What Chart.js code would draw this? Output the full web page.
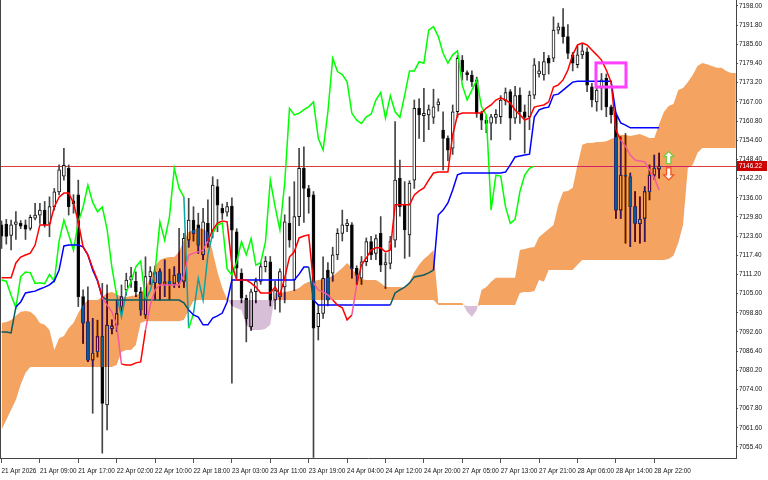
<!DOCTYPE html>
<html>
<head>
<meta charset="utf-8">
<script src="https://cdn.jsdelivr.net/npm/chart.js"></script>
<style>
  html, body { margin: 0; padding: 0; background: #fff; }
  canvas { display: block; }
</style>
</head>
<body>
<canvas id="chart" width="768" height="480"></canvas>
<script>
// H1 bars, 21 Apr 01:00 -> 28 Apr 23:00 (138 candles)
var opens = [
  7127.2, 7127.5, 7123.8, 7127.4, 7127.7, 7127.2, 7126.1, 7129.4, 7130.4, 7132.0,
  7127.7, 7133.1, 7137.9, 7143.0, 7145.5, 7135.0, 7136.9, 7104.0, 7095.9, 7083.5,
  7086.2, 7091.1, 7069.0, 7093.6, 7094.8, 7100.8, 7106.2, 7109.4, 7109.0, 7105.6,
  7098.1, 7110.5, 7108.5, 7112.1, 7108.0, 7109.0, 7108.3, 7111.5, 7108.9, 7122.3,
  7128.8, 7127.2, 7117.5, 7127.7, 7125.0, 7139.6, 7132.6, 7131.3, 7133.3, 7125.0,
  7111.6, 7103.5, 7094.3, 7105.6, 7108.9, 7113.7, 7115.3, 7102.9, 7104.0, 7107.2,
  7127.7, 7109.4, 7129.9, 7145.5, 7139.0, 7136.9, 7094.3, 7098.6, 7112.6, 7111.6,
  7117.5, 7124.5, 7127.0, 7127.2, 7113.2, 7110.0, 7115.3, 7121.8, 7118.0, 7124.5,
  7114.3, 7114.8, 7122.3, 7142.3, 7133.6, 7124.0, 7141.7, 7164.9, 7162.5, 7162.8,
  7162.0, 7166.0, 7157.9, 7155.2, 7152.0, 7163.8, 7180.5, 7176.5, 7175.7, 7174.1,
  7163.3, 7161.0, 7160.1, 7162.0, 7162.2, 7167.4, 7170.3, 7161.7, 7169.2, 7163.8,
  7162.2, 7169.2, 7176.0, 7175.7, 7181.1, 7181.1, 7190.2, 7191.3, 7188.1, 7182.2,
  7179.0, 7182.2, 7183.2, 7171.9, 7167.0, 7171.4, 7174.6, 7165.4, 7162.8, 7132.0,
  7143.3, 7142.8, 7133.1, 7127.5, 7129.3, 7138.0, 7143.3, 7145.2
];
var highs = [
  7128.5, 7129.0, 7128.8, 7131.5, 7128.6, 7128.8, 7130.4, 7134.2, 7134.2, 7134.8,
  7136.3, 7139.0, 7146.6, 7152.0, 7146.6, 7137.0, 7141.7, 7106.2, 7107.2, 7097.0,
  7096.4, 7108.3, 7107.8, 7096.5, 7103.0, 7107.8, 7111.6, 7113.5, 7112.0, 7107.0,
  7116.9, 7113.7, 7114.0, 7113.0, 7115.9, 7112.9, 7113.7, 7126.1, 7124.5, 7135.8,
  7133.1, 7131.0, 7132.6, 7135.3, 7142.8, 7141.9, 7134.0, 7134.5, 7136.0, 7126.0,
  7113.0, 7104.5, 7106.5, 7110.0, 7115.0, 7117.0, 7117.0, 7109.0, 7113.0, 7130.5,
  7136.3, 7141.2, 7152.0, 7152.5, 7140.0, 7138.0, 7101.5, 7116.9, 7115.0, 7120.0,
  7126.0, 7132.0, 7129.0, 7128.0, 7114.0, 7117.0, 7123.0, 7123.5, 7124.0, 7129.9,
  7118.0, 7123.5, 7160.6, 7148.2, 7141.2, 7141.5, 7167.6, 7168.0, 7171.4, 7166.0,
  7171.1, 7168.0, 7163.8, 7156.0, 7166.0, 7182.0, 7182.0, 7177.0, 7177.0, 7175.0,
  7164.0, 7162.5, 7163.0, 7164.5, 7169.0, 7171.5, 7171.0, 7172.0, 7171.5, 7166.0,
  7170.5, 7181.0, 7180.0, 7183.0, 7182.0, 7194.5, 7192.5, 7197.2, 7192.0, 7183.0,
  7185.0, 7185.9, 7184.5, 7173.0, 7172.0, 7176.2, 7176.0, 7166.0, 7163.5, 7155.7,
  7156.8, 7144.0, 7138.0, 7136.3, 7139.6, 7146.6, 7149.8, 7150.4
];
var lows = [
  7119.6, 7121.0, 7119.1, 7122.5, 7126.0, 7122.5, 7125.5, 7128.8, 7127.7, 7126.5,
  7123.4, 7132.0, 7136.9, 7141.7, 7130.4, 7131.0, 7100.8, 7088.9, 7083.0, 7066.3,
  7084.5, 7053.4, 7060.9, 7092.0, 7092.7, 7099.0, 7104.5, 7107.0, 7104.0, 7098.0,
  7097.0, 7108.0, 7103.0, 7102.9, 7104.0, 7103.0, 7107.0, 7107.0, 7107.0, 7120.0,
  7122.0, 7118.0, 7116.0, 7120.0, 7123.0, 7125.0, 7129.0, 7130.0, 7076.0, 7110.0,
  7102.0, 7089.4, 7093.0, 7102.0, 7108.0, 7112.0, 7101.0, 7100.0, 7099.0, 7102.0,
  7120.0, 7106.0, 7127.0, 7128.0, 7131.0, 7052.0, 7090.0, 7097.0, 7101.0, 7109.0,
  7116.0, 7122.0, 7125.0, 7110.0, 7108.0, 7108.0, 7114.0, 7116.0, 7116.0, 7112.1,
  7106.7, 7113.0, 7120.0, 7130.0, 7116.4, 7117.0, 7139.0, 7155.2, 7154.1, 7158.0,
  7160.0, 7164.0, 7145.0, 7148.0, 7150.0, 7162.0, 7174.0, 7174.0, 7172.0, 7162.0,
  7158.0, 7157.0, 7154.7, 7160.0, 7160.0, 7166.0, 7154.7, 7160.0, 7160.0, 7150.4,
  7158.0, 7168.0, 7175.0, 7174.0, 7176.0, 7180.0, 7189.0, 7186.0, 7181.0, 7177.0,
  7178.0, 7181.0, 7170.3, 7165.4, 7164.0, 7164.4, 7162.2, 7160.1, 7129.3, 7129.3,
  7121.3, 7120.2, 7121.8, 7121.3, 7121.8, 7135.3, 7142.0, 7142.3
];
var closes = [
  7123.6, 7123.5, 7127.2, 7128.2, 7126.8, 7125.8, 7129.7, 7130.4, 7132.0, 7127.2,
  7133.1, 7137.9, 7145.0, 7146.5, 7133.1, 7134.0, 7104.0, 7095.4, 7083.5, 7085.7,
  7091.1, 7069.5, 7094.8, 7094.6, 7098.5, 7104.0, 7109.4, 7110.5, 7105.6, 7099.7,
  7110.5, 7112.1, 7111.8, 7108.3, 7108.8, 7108.0, 7111.0, 7108.8, 7122.9, 7128.8,
  7124.5, 7120.7, 7128.2, 7121.8, 7140.1, 7133.6, 7131.0, 7133.1, 7125.5, 7113.2,
  7103.5, 7097.0, 7105.6, 7108.9, 7113.7, 7115.5, 7102.9, 7106.0, 7112.1, 7128.2,
  7122.3, 7129.9, 7145.5, 7139.0, 7136.3, 7093.8, 7098.6, 7109.9, 7102.9, 7117.5,
  7124.5, 7127.2, 7127.8, 7113.0, 7111.0, 7115.3, 7121.8, 7117.5, 7122.8, 7114.2,
  7115.0, 7121.8, 7141.7, 7133.1, 7125.6, 7140.7, 7164.9, 7162.8, 7163.3, 7164.5,
  7165.4, 7167.0, 7155.2, 7151.4, 7163.8, 7181.1, 7176.8, 7175.8, 7173.5, 7163.3,
  7161.1, 7160.0, 7162.2, 7163.0, 7167.6, 7170.0, 7161.7, 7169.0, 7163.8, 7162.0,
  7169.2, 7179.0, 7177.0, 7180.0, 7179.5, 7190.2, 7191.3, 7188.1, 7182.7, 7179.5,
  7182.2, 7183.5, 7172.4, 7167.6, 7170.8, 7174.1, 7165.4, 7162.8, 7132.0, 7143.3,
  7143.0, 7133.1, 7127.7, 7129.0, 7138.0, 7143.3, 7145.5, 7146.22
];

// Ichimoku lines
var tenkan = [
  7110.1, 7110.1, 7110.1, 7114.9, 7116.8, 7117.5, 7118.1, 7120.7, 7127.2, 7127.2,
  7127.2, 7133.0, 7136.2, 7137.5, 7137.5, 7134.3, 7128.2, 7120.1, 7117.5, 7113.3,
  7109.4, 7103.6, 7101.3, 7099.1, 7094.9, 7082.2, 7081.9, 7081.9, 7082.6, 7082.9,
  7093.2, 7101.3, 7106.2, 7107.8, 7107.8, 7107.8, 7107.8, 7107.8, 7111.0, 7117.5,
  7118.1, 7118.5, 7119.1, 7122.0, 7125.6, 7127.8, 7128.5, 7128.2, 7114.3, 7109.4,
  7109.4, 7109.4, 7108.4, 7107.1, 7105.2, 7105.2, 7105.2, 7107.1, 7104.6, 7110.1,
  7116.8, 7118.5, 7123.0, 7123.6, 7124.0, 7108.4, 7106.2, 7105.5, 7104.6, 7102.9,
  7101.3, 7100.4, 7096.5, 7098.1, 7107.8, 7114.3, 7116.5, 7119.1, 7119.8, 7119.8,
  7118.5, 7119.1, 7133.7, 7133.7, 7133.7, 7133.7, 7136.9, 7138.2, 7139.2, 7141.7,
  7144.0, 7144.3, 7144.3, 7144.3, 7156.3, 7162.8, 7163.4, 7163.4, 7163.4, 7163.4,
  7163.4, 7165.0, 7166.0, 7167.6, 7168.3, 7167.6, 7166.6, 7164.4, 7162.8, 7161.1,
  7161.8, 7165.3, 7165.7, 7166.0, 7167.0, 7171.8, 7172.5, 7174.1, 7177.3, 7182.2,
  7185.4, 7186.0, 7185.4, 7183.8, 7182.2, 7180.5, 7177.3, 7173.4, 7157.9, 7154.7,
  7152.7, 7149.8, 7148.2, 7147.9, 7147.6, 7145.0, 7142.4, 7138.5
];
var kijun = [
  7092.6, 7092.6, 7092.3, 7100.7, 7102.3, 7105.2, 7105.5, 7105.8, 7106.5, 7107.1,
  7107.8, 7109.1, 7112.6, 7120.4, 7120.7, 7120.7, 7120.7, 7120.1, 7117.5, 7112.6,
  7109.1, 7103.9, 7102.9, 7102.9, 7102.9, 7102.9, 7102.9, 7102.9, 7102.9, 7102.9,
  7102.9, 7102.9, 7102.9, 7102.9, 7102.9, 7102.9, 7102.9, 7102.9, 7102.0, 7099.7,
  7098.1, 7097.4, 7094.9, 7094.9, 7097.1, 7097.8, 7098.7, 7102.3, 7109.4, 7109.4,
  7109.4, 7109.4, 7109.4, 7109.4, 7109.4, 7109.4, 7109.4, 7109.4, 7109.4, 7109.4,
  7109.4, 7109.4, 7111.3, 7113.6, 7113.6, 7102.9, 7101.3, 7101.3, 7101.3, 7101.3,
  7101.3, 7101.3, 7101.3, 7101.3, 7101.3, 7101.3, 7101.3, 7101.3, 7101.3, 7101.3,
  7101.3, 7101.3, 7105.2, 7106.2, 7107.1, 7108.4, 7110.4, 7110.7, 7111.0, 7111.7,
  7112.6, 7130.4, 7132.0, 7134.3, 7138.5, 7143.4, 7144.0, 7144.0, 7144.0, 7144.0,
  7144.0, 7144.0, 7144.0, 7144.0, 7144.0, 7144.3, 7146.6, 7149.2, 7149.5, 7149.8,
  7150.1, 7162.1, 7164.4, 7165.0, 7165.3, 7169.2, 7169.5, 7170.8, 7172.1, 7173.4,
  7173.7, 7173.7, 7173.7, 7173.7, 7173.7, 7173.7, 7173.7, 7173.7, 7163.4, 7160.2,
  7159.5, 7158.6, 7158.6, 7158.6, 7158.6, 7158.6, 7158.6, 7158.6
];
var chikou = [
  7109.4, 7109.0, 7104.5, 7100.5, 7110.5, 7112.0, 7111.8, 7108.3, 7108.5, 7108.2,
  7111.2, 7109.0, 7122.0, 7128.8, 7124.0, 7119.0, 7128.2, 7133.0, 7140.1, 7134.5,
  7131.5, 7133.0, 7125.8, 7113.5, 7104.5, 7097.5, 7105.6, 7108.9, 7113.7, 7115.5,
  7102.9, 7106.0, 7112.1, 7128.2, 7122.3, 7129.9, 7145.5, 7139.0, 7136.3, 7093.8,
  7098.6, 7109.9, 7102.9, 7117.5, 7124.5, 7127.2, 7127.8, 7113.0, 7111.0, 7115.3,
  7121.8, 7117.5, 7122.8, 7114.2, 7115.0, 7121.8, 7141.7, 7133.1, 7125.6, 7140.7,
  7164.9, 7162.8, 7163.3, 7164.5, 7165.4, 7167.0, 7155.2, 7151.4, 7163.8, 7181.1,
  7176.8, 7175.8, 7173.5, 7163.3, 7161.1, 7160.0, 7162.2, 7163.0, 7167.6, 7170.0,
  7161.7, 7169.0, 7163.8, 7162.0, 7169.2, 7177.0, 7177.0, 7180.0, 7179.5, 7190.2,
  7191.3, 7188.1, 7182.7, 7179.5, 7182.2, 7183.5, 7172.4, 7167.6, 7170.8, 7174.1,
  7165.4, 7162.8, 7132.0, 7143.3, 7143.0, 7133.1, 7127.7, 7129.0, 7138.0, 7143.3,
  7145.5, 7146.2
];
// Senkou spans run 16 bars past the last candle, up to the price scale
var spanA = [
  7095.5, 7095.8, 7096.5, 7097.8, 7099.1, 7099.4, 7099.1, 7097.8, 7095.5, 7094.9,
  7093.2, 7086.8, 7090.6, 7091.3, 7093.9, 7095.5, 7098.7, 7101.3, 7102.9, 7102.9,
  7102.9, 7103.9, 7105.2, 7105.5, 7104.9, 7103.9, 7103.9, 7104.2, 7104.5, 7105.2,
  7106.8, 7110.1, 7113.9, 7115.9, 7116.5, 7116.8, 7116.8, 7118.5, 7122.3, 7124.9,
  7125.6, 7126.2, 7125.9, 7124.9, 7118.5, 7112.0, 7106.8, 7103.2, 7101.0, 7100.3,
  7099.7, 7094.9, 7093.2, 7093.2, 7093.2, 7093.6, 7094.9, 7105.2, 7105.2, 7105.5,
  7105.8, 7106.2, 7106.8, 7108.1, 7108.8, 7109.1, 7109.4, 7109.7, 7110.1, 7110.7,
  7112.0, 7113.3, 7114.9, 7113.3, 7111.0, 7109.7, 7109.4, 7109.4, 7109.4, 7108.4,
  7107.1, 7107.1, 7107.1, 7107.1, 7106.8, 7108.8, 7112.0, 7114.3, 7116.2, 7117.5,
  7119.1, 7102.0, 7102.0, 7102.0, 7102.0, 7102.0, 7102.0, 7099.1, 7097.4, 7099.7,
  7106.2, 7107.1, 7108.8, 7110.1, 7110.1, 7110.1, 7110.1, 7110.1, 7119.1, 7119.4,
  7119.8, 7120.1, 7123.3, 7124.6, 7125.9, 7127.2, 7133.7, 7137.9, 7138.2, 7139.2,
  7146.6, 7153.1, 7153.7, 7153.7, 7154.0, 7154.0, 7154.3, 7155.0, 7155.6, 7156.3,
  7156.3, 7156.0, 7156.3, 7156.6, 7156.0, 7155.3, 7155.3, 7159.8, 7163.7, 7165.7,
  7166.3, 7170.8, 7171.5, 7173.4, 7175.7, 7178.6, 7179.6, 7179.2, 7178.6, 7178.0,
  7178.0, 7177.0, 7176.3, 7176.3
];
var spanB = [
  7060.9, 7064.1, 7067.4, 7070.6, 7075.5, 7079.3, 7081.3, 7081.3, 7081.3, 7081.3,
  7081.3, 7081.3, 7081.3, 7081.3, 7081.3, 7081.3, 7081.3, 7081.3, 7081.3, 7081.3,
  7081.3, 7081.3, 7081.3, 7081.3, 7081.9, 7086.1, 7086.8, 7086.8, 7088.4, 7095.5,
  7096.1, 7096.1, 7096.1, 7096.1, 7096.1, 7096.1, 7096.1, 7096.1, 7096.5, 7099.7,
  7102.6, 7102.9, 7102.9, 7102.9, 7102.9, 7102.9, 7102.9, 7102.9, 7102.9, 7102.9,
  7102.9, 7102.9, 7102.9, 7102.9, 7102.9, 7102.9, 7102.9, 7102.9, 7102.9, 7102.9,
  7102.9, 7102.9, 7102.9, 7102.9, 7102.9, 7102.9, 7102.9, 7102.9, 7102.9, 7102.9,
  7102.9, 7102.9, 7102.9, 7102.9, 7102.9, 7102.9, 7102.9, 7102.9, 7102.9, 7102.9,
  7102.9, 7102.9, 7102.9, 7102.9, 7102.9, 7102.9, 7102.9, 7102.9, 7102.9, 7102.9,
  7102.9, 7101.3, 7101.3, 7101.3, 7101.3, 7101.3, 7101.3, 7101.0, 7101.0, 7101.0,
  7101.3, 7101.3, 7101.3, 7101.3, 7101.3, 7101.3, 7101.3, 7101.3, 7105.2, 7105.5,
  7105.5, 7105.8, 7109.4, 7108.8, 7112.6, 7112.6, 7112.6, 7112.6, 7112.6, 7112.6,
  7114.3, 7115.9, 7115.9, 7115.9, 7115.9, 7115.9, 7115.9, 7115.9, 7115.9, 7115.9,
  7115.9, 7115.9, 7115.9, 7115.9, 7115.9, 7115.9, 7115.9, 7115.9, 7115.9, 7116.2,
  7117.2, 7121.4, 7127.2, 7145.6, 7146.6, 7150.5, 7152.1, 7152.1, 7152.1, 7152.1,
  7152.1, 7152.1, 7152.1, 7152.1
];

// one time label every 8 bars
var timeLabels = [
  '21 Apr 2026', '21 Apr 09:00', '21 Apr 17:00', '22 Apr 02:00', '22 Apr 10:00', '22 Apr 18:00',
  '23 Apr 03:00', '23 Apr 11:00', '23 Apr 19:00', '24 Apr 04:00', '24 Apr 12:00', '24 Apr 20:00',
  '27 Apr 05:00', '27 Apr 13:00', '27 Apr 21:00', '28 Apr 06:00', '28 Apr 14:00', '28 Apr 22:00'
];
var labelEvery = 8;
var priceTicks = [
  7198.00, 7191.80, 7185.60, 7179.40, 7173.20, 7167.00, 7160.80, 7154.60, 7148.40, 7142.20,
  7136.00, 7129.80, 7123.60, 7117.40, 7111.20, 7105.00, 7098.80, 7092.60, 7086.40, 7080.20,
  7074.00, 7067.80, 7061.60, 7055.40
];
var lastPrice = 7146.22;
// marked zone and signal arrows
var boxBars = [123.85, 130.1];
var boxPrices = [7179.6, 7171.8];
var signalBar = 139;
var upArrowPrice = 7149.0;
var downArrowPrice = 7143.7;

function pts(arr) {
  return arr.map(function (v, i) { return { x: i, y: v }; });
}

var bodies = opens.map(function (o, i) { return { x: i, y: [o, closes[i]] }; });
var wicks = lows.map(function (l, i) { return { x: i, y: [l, highs[i]] }; });
var bodyColors = opens.map(function (o, i) { return closes[i] >= o ? '#ffffff' : '#000000'; });

// a line segment inside the cloud takes the XOR-ed colour, like on the terminal
function cloudTint(base, inOrange, inPurple) {
  return function (ctx) {
    var i = ctx.p0DataIndex, j = ctx.p1DataIndex;
    if (spanA[j] === undefined) return base;
    var y = (ctx.p0.parsed.y + ctx.p1.parsed.y) / 2;
    var a = (spanA[i] + spanA[j]) / 2, b = (spanB[i] + spanB[j]) / 2;
    if (y < Math.max(a, b) && y > Math.min(a, b)) return a >= b ? inOrange : inPurple;
    return base;
  };
}

function drawArrow(ctx, x, y, up, color) {
  var d = up ? 1 : -1;
  ctx.beginPath();
  ctx.moveTo(x, y - 6 * d);
  ctx.lineTo(x + 5, y - 1 * d);
  ctx.lineTo(x + 2.2, y - 1 * d);
  ctx.lineTo(x + 2.2, y + 6 * d);
  ctx.lineTo(x - 2.2, y + 6 * d);
  ctx.lineTo(x - 2.2, y - 1 * d);
  ctx.lineTo(x - 5, y - 1 * d);
  ctx.closePath();
  ctx.fillStyle = '#ffffff';
  ctx.fill();
  ctx.lineWidth = 1.3;
  ctx.strokeStyle = color;
  ctx.stroke();
}

// cloud is painted in "difference" mode so black candles inside it turn blue
var cloudPlugin = {
  id: 'cloud',
  beforeDraw: function (chart) {
    var ctx = chart.ctx;
    ctx.save();
    ctx.fillStyle = '#ffffff';
    ctx.fillRect(0, 0, chart.width, chart.height);
    ctx.restore();
  },
  beforeDatasetsDraw: function (chart) {
    var ctx = chart.ctx, a = chart.chartArea;
    var py = Math.round(chart.scales.y.getPixelForValue(lastPrice)) + 0.5;
    ctx.save();
    ctx.strokeStyle = '#e03a3a';
    ctx.lineWidth = 1;
    ctx.beginPath();
    ctx.moveTo(a.left, py);
    ctx.lineTo(a.right, py);
    ctx.stroke();
    ctx.restore();
  },
  afterDatasetDraw: function (chart, args) {
    if (args.index === 1) chart.ctx.globalCompositeOperation = 'difference';
  },
  beforeDatasetDraw: function (chart, args) {
    if (args.index === 0) chart.ctx.globalCompositeOperation = 'source-over';
  },
  afterDatasetsDraw: function (chart) {
    var ctx = chart.ctx, xs = chart.scales.x, ys = chart.scales.y;
    ctx.globalCompositeOperation = 'source-over';
    ctx.save();
    var x1 = xs.getPixelForValue(boxBars[0]), x2 = xs.getPixelForValue(boxBars[1]);
    var y1 = ys.getPixelForValue(boxPrices[0]), y2 = ys.getPixelForValue(boxPrices[1]);
    ctx.strokeStyle = '#ff40ff';
    ctx.lineWidth = 3;
    ctx.strokeRect(x1, y1, x2 - x1, y2 - y1);
    var ax = xs.getPixelForValue(signalBar);
    drawArrow(ctx, ax, ys.getPixelForValue(upArrowPrice), true, '#7cc843');
    drawArrow(ctx, ax, ys.getPixelForValue(downArrowPrice), false, '#f4511e');
    ctx.restore();
  },
  afterDraw: function (chart) {
    var ctx = chart.ctx, a = chart.chartArea;
    var py = chart.scales.y.getPixelForValue(lastPrice);
    ctx.save();
    ctx.strokeStyle = '#444';
    ctx.lineWidth = 1;
    ctx.beginPath();
    ctx.moveTo(a.left + 0.5, a.top);
    ctx.lineTo(a.left + 0.5, a.bottom);
    ctx.stroke();
    ctx.fillStyle = '#cc0000';
    ctx.fillRect(a.right + 1, Math.round(py) - 5, 30, 10);
    ctx.fillStyle = '#ffffff';
    ctx.font = '6.4px "Liberation Sans"';
    ctx.textBaseline = 'middle';
    ctx.fillText(lastPrice.toFixed(2), a.right + 3, Math.round(py) + 0.5);
    ctx.restore();
  }
};

var tickFont = { family: 'Liberation Sans', size: 6.4 };

new Chart(document.getElementById('chart'), {
  type: 'bar',
  data: {
    datasets: [
      { type: 'line', label: 'Senkou A', data: pts(spanA), borderColor: 'rgba(0,0,0,0)', borderWidth: 1,
        pointRadius: 0, tension: 0, order: 3,
        fill: { target: '+1', above: 'rgb(11,91,159)', below: 'rgb(39,64,39)' } },
      { type: 'line', label: 'Senkou B', data: pts(spanB), borderColor: 'rgba(0,0,0,0)', borderWidth: 1,
        pointRadius: 0, tension: 0, fill: false, order: 4 },
      { type: 'line', label: 'Tenkan', data: pts(tenkan), borderColor: '#ff0000', borderWidth: 1.5,
        pointRadius: 0, tension: 0, fill: false, order: 0,
        segment: { borderColor: cloudTint('#ff0000', '#f45b9f', '#d84027') } },
      { type: 'line', label: 'Kijun', data: pts(kijun), borderColor: '#0000ff', borderWidth: 1.5,
        pointRadius: 0, tension: 0, fill: false, order: 1,
        segment: { borderColor: cloudTint('#0000ff', '#0b5b60', '#2740d8') } },
      { type: 'line', label: 'Chikou', data: pts(chikou), borderColor: '#00ff00', borderWidth: 1.5,
        pointRadius: 0, tension: 0, fill: false, order: 2,
        segment: { borderColor: cloudTint('#00ff00', '#0ba49f', '#27bf27') } },
      { type: 'bar', label: 'body', data: bodies, backgroundColor: bodyColors, borderColor: '#111',
        borderWidth: 1, borderSkipped: false, barThickness: 3, minBarLength: 1, grouped: false, order: 5 },
      { type: 'bar', label: 'wick', data: wicks, backgroundColor: '#444', borderWidth: 0,
        barThickness: 1, minBarLength: 1, grouped: false, order: 6 }
    ]
  },
  options: {
    responsive: false,
    animation: false,
    devicePixelRatio: 1,
    events: [],
    layout: { padding: 0 },
    plugins: { legend: { display: false }, tooltip: { enabled: false } },
    scales: {
      x: {
        type: 'linear', min: -0.31, max: 153.02, offset: false,
        afterBuildTicks: function (s) {
          s.ticks = timeLabels.map(function (t, k) { return { value: k * labelEvery }; });
        },
        afterFit: function (s) { s.height = 22; s.paddingLeft = 0; s.paddingRight = 0; },
        ticks: {
          autoSkip: false, maxRotation: 0, align: 'start', padding: 4, color: '#111', font: tickFont,
          callback: function (v, i) { return timeLabels[i]; }
        },
        grid: { drawOnChartArea: false, offset: false, tickLength: 5, color: '#555' },
        border: { display: true, color: '#444' }
      },
      y: {
        position: 'right', min: 7051.84, max: 7199.94, beginAtZero: false,
        afterBuildTicks: function (s) {
          s.ticks = priceTicks.map(function (v) { return { value: v }; });
        },
        afterFit: function (s) { s.width = 32; s.paddingTop = 0; s.paddingBottom = 0; },
        ticks: {
          autoSkip: false, padding: 1, color: '#111', font: tickFont,
          callback: function (v) { return Number(v).toFixed(2); }
        },
        grid: { drawOnChartArea: false, tickLength: 2, color: '#555' },
        border: { display: true, color: '#444' }
      }
    }
  },
  plugins: [cloudPlugin]
});
</script>
</body>
</html>
